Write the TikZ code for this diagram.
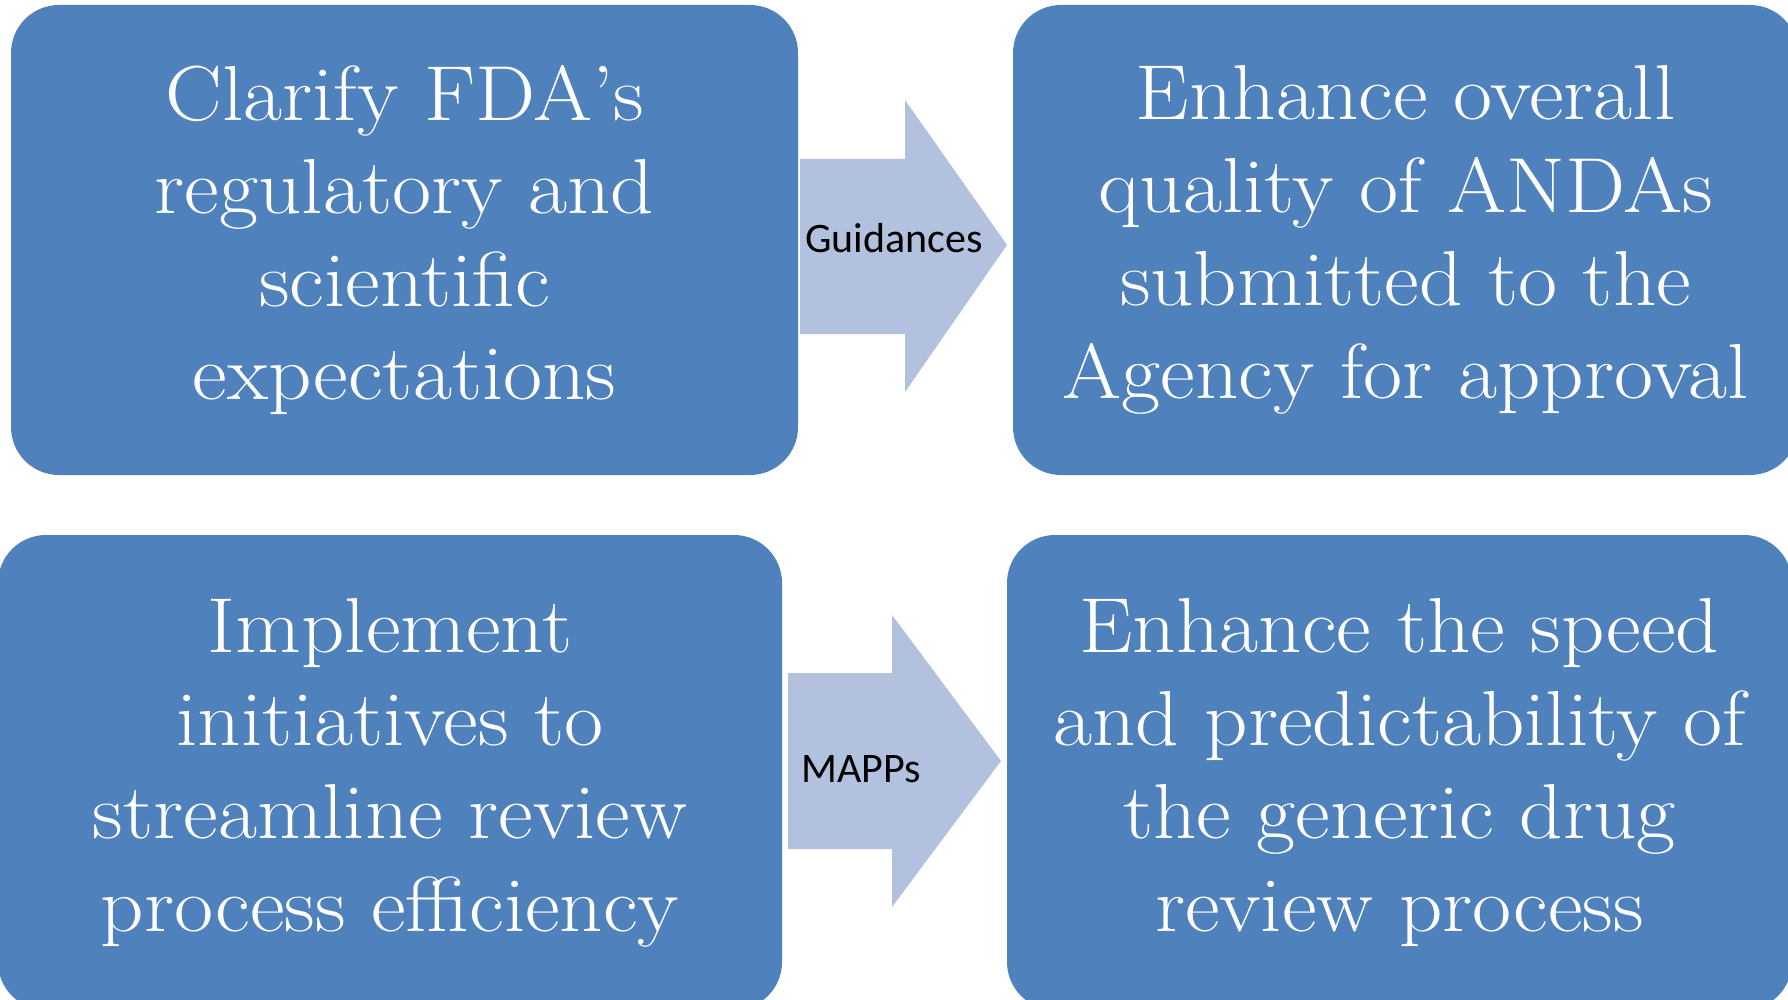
\documentclass[tikz,border=0pt]{standalone}
\usepackage{fontspec}
\newfontfamily\labelfont{Carlito}
\newfontfamily\goalfont{lmroman17-regular.otf}[FakeStretch=1.09]
\definecolor{boxblue}{HTML}{4F81BD}
\definecolor{arrowblue}{HTML}{B2C2DE}

\begin{document}
\begin{tikzpicture}[x=1pt,y=-1pt,
  goalbox/.style={fill=boxblue, rounded corners=48pt, text=white, align=center,
    inner sep=0pt, font=\goalfont\fontsize{78}{93}\selectfont},
  flowarrow/.style={fill=arrowblue},
  arrowlabel/.style={anchor=base west, inner sep=0pt,
    font=\labelfont\fontsize{42}{50}\selectfont}]
\useasboundingbox (0,0) rectangle (1788,1000);
\clip (0,0) rectangle (1788,1000);

% goal boxes
\node[goalbox, minimum width=787pt, minimum height=470pt] (clarify) at (404.5,240)
  {Clarify FDA’s\\regulatory and\\scientific\\expectations};
\node[goalbox, minimum width=785pt, minimum height=470pt] (quality) at (1405.5,240)
  {Enhance overall\\quality of ANDAs\\submitted to the\\Agency for approval};
\node[goalbox, minimum width=784pt, minimum height=475pt] (implement) at (390,772.5)
  {Implement\\initiatives to\\streamline review\\process efficiency};
\node[goalbox, minimum width=785pt, minimum height=475pt] (speed) at (1399.5,772.5)
  {Enhance the speed\\and predictability of\\the generic drug\\review process};

% block arrows between the boxes
\fill[flowarrow] (800,159) -- (905,159) -- (905,100) -- (1007,245)
  -- (905,392) -- (905,334) -- (800,334) -- cycle;
\fill[flowarrow] (788,673) -- (892,673) -- (892,615) -- (1001,761)
  -- (892,907) -- (892,849) -- (788,849) -- cycle;

% arrow labels
\node[arrowlabel] (guid) at (805,253) {Guidances};
\node[arrowlabel] (mapps) at (801,782) {MAPPs};
\end{tikzpicture}
\end{document}
